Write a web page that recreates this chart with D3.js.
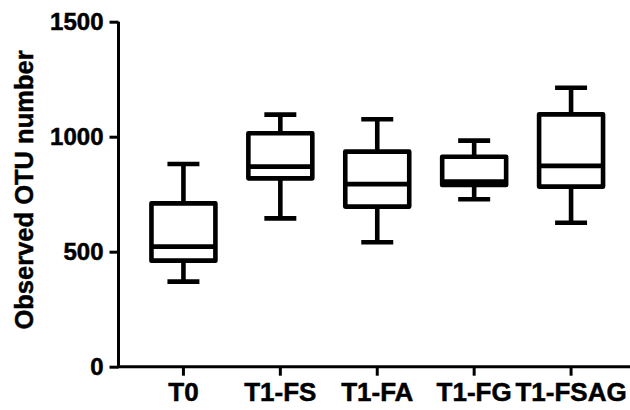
<!DOCTYPE html>
<html>
<head>
<meta charset="utf-8">
<script src="https://cdn.jsdelivr.net/npm/d3@7"></script>
<style>
  body { margin: 0; background: #fff; }
  svg { display: block; font-family: "Liberation Sans", Arial, sans-serif; font-weight: bold; }
</style>
</head>
<body>
<div id="chart"></div>
<script>
const categories = ["T0", "T1-FS", "T1-FA", "T1-FG", "T1-FSAG"];
const whiskerLow = [370, 645, 541, 728, 626];
const q1 = [461, 819, 696, 790, 783];
const median = [522, 870, 794, 805, 873];
const q3 = [710, 1015, 935, 913, 1097];
const whiskerHigh = [881, 1096, 1076, 983, 1213];
const yTicks = [0, 500, 1000, 1500];

const dimensions = {
    width: 630,
    height: 410,
    margin: { top: 21.7, right: -6, bottom: 43.3, left: 118.5 }
};
const innerW = dimensions.width - dimensions.margin.left - dimensions.margin.right;
const innerH = dimensions.height - dimensions.margin.top - dimensions.margin.bottom;

const boxes = categories.map((c, i) => ({
    name: c, low: whiskerLow[i], q1: q1[i], med: median[i], q3: q3[i], high: whiskerHigh[i]
}));

const svg = d3.select("#chart")
    .append("svg")
    .attr("width", dimensions.width)
    .attr("height", dimensions.height)
    .append("g")
    .attr("transform", `translate(${dimensions.margin.left},${dimensions.margin.top})`);

const xScale = d3.scaleBand()
    .domain(categories)
    .range([0, innerW])
    .paddingInner(0)
    .paddingOuter(0.17);

const yScale = d3.scaleLinear()
    .domain([0, 1500])
    .range([innerH, 0]);

const boxW = xScale.bandwidth() * 0.66;
const capW = boxW / 2;

// boxes
const g = svg.selectAll(".box")
    .data(boxes)
    .enter()
    .append("g")
    .attr("class", "box")
    .attr("transform", d => `translate(${xScale(d.name) + xScale.bandwidth() / 2},0)`)
    .attr("stroke", "#000")
    .attr("stroke-width", 4.6)
    .attr("fill", "none");

// whiskers
g.append("line")
    .attr("x1", 0).attr("x2", 0)
    .attr("y1", d => yScale(d.high)).attr("y2", d => yScale(d.q3));
g.append("line")
    .attr("x1", 0).attr("x2", 0)
    .attr("y1", d => yScale(d.q1)).attr("y2", d => yScale(d.low));
g.append("line")
    .attr("x1", -capW / 2).attr("x2", capW / 2)
    .attr("y1", d => yScale(d.high)).attr("y2", d => yScale(d.high));
g.append("line")
    .attr("x1", -capW / 2).attr("x2", capW / 2)
    .attr("y1", d => yScale(d.low)).attr("y2", d => yScale(d.low));

g.append("rect")
    .attr("x", -boxW / 2)
    .attr("width", boxW)
    .attr("y", d => yScale(d.q3))
    .attr("height", d => yScale(d.q1) - yScale(d.q3))
    .attr("stroke-linejoin", "round");

g.append("line")
    .attr("x1", -boxW / 2).attr("x2", boxW / 2)
    .attr("y1", d => yScale(d.med)).attr("y2", d => yScale(d.med));

// axes
const xAxis = svg.append("g")
    .attr("class", "x-axis")
    .attr("transform", `translate(0,${innerH})`)
    .call(d3.axisBottom(xScale).tickSize(9).tickSizeOuter(0).tickPadding(7));

const yAxis = svg.append("g")
    .attr("class", "y-axis")
    .call(d3.axisLeft(yScale).tickValues(yTicks).tickFormat(d3.format("d"))
        .tickSize(9).tickSizeOuter(0).tickPadding(6));

svg.selectAll(".x-axis path, .y-axis path, .x-axis line, .y-axis line")
    .attr("stroke", "#000")
    .attr("stroke-width", 3);

xAxis.select(".domain").attr("d", `M-1.5,0H${innerW}`);
yAxis.select(".domain").attr("d", `M0,0V${innerH}`);

xAxis.selectAll("text")
    .attr("fill", "#000")
    .attr("stroke", "#000")
    .attr("stroke-width", 0.5)
    .style("font-size", "26px")
    .style("font-weight", "bold")
    .style("font-family", "'Liberation Sans', Arial, sans-serif");

yAxis.selectAll("text")
    .attr("fill", "#000")
    .attr("stroke", "#000")
    .attr("stroke-width", 0.5)
    .style("font-size", "24px")
    .style("font-weight", "bold")
    .style("font-family", "'Liberation Sans', Arial, sans-serif");

svg.append("text")
    .attr("transform", `translate(${33 - dimensions.margin.left},${190 - dimensions.margin.top}) rotate(-90)`)
    .style("text-anchor", "middle")
    .style("font-size", "25.5px")
    .attr("fill", "#000")
    .attr("stroke", "#000")
    .attr("stroke-width", 0.5)
    .text("Observed OTU number");
</script>
</body>
</html>
